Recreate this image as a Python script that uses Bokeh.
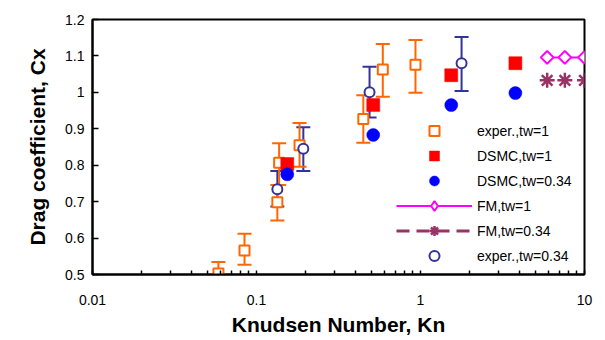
from bokeh.plotting import figure
from bokeh.models import (Range1d, FixedTicker, CustomJSTickFormatter, Whisker, TeeHead,
                          ColumnDataSource, Legend, LegendItem)
from bokeh.embed import file_html
from bokeh.resources import INLINE

# ---- data ----
exp1_kn = [0.0586, 0.0845, 0.134, 0.1374, 0.183, 0.448, 0.589, 0.932]
exp1_cx = [0.503, 0.566, 0.698, 0.807, 0.855, 0.927, 1.063, 1.076]
exp1_hi = [0.534, 0.612, 0.746, 0.860, 0.916, 0.992, 1.133, 1.144]
exp1_lo = [0.472, 0.527, 0.648, 0.746, 0.796, 0.862, 0.988, 0.999]

dsmc1_kn = [0.154, 0.515, 1.54, 3.79]
dsmc1_cx = [0.803, 0.965, 1.047, 1.080]

dsmc034_kn = [0.154, 0.515, 1.54, 3.79]
dsmc034_cx = [0.775, 0.883, 0.965, 0.998]

fm1_kn = [5.92, 7.59, 10.0]
fm1_cx = [1.096, 1.096, 1.096]

fm034_kn = [5.92, 7.59, 10.0]
fm034_cx = [1.033, 1.033, 1.033]

exp034_kn = [0.134, 0.193, 0.489, 1.78]
exp034_cx = [0.734, 0.845, 1.000, 1.080]
exp034_hi = [0.784, 0.904, 1.070, 1.152]
exp034_lo = [0.687, 0.784, 0.931, 1.004]

x_major = [0.01, 0.1, 1, 10]
x_minor = [0.02, 0.03, 0.04, 0.05, 0.06, 0.07, 0.08, 0.09,
           0.2, 0.3, 0.4, 0.5, 0.6, 0.7, 0.8, 0.9,
           2, 3, 4, 5, 6, 7, 8, 9]
y_ticks = [0.5, 0.6, 0.7, 0.8, 0.9, 1.0, 1.1, 1.2]

NAN = [float("nan")]

ORANGE = "#FF6600"
RED = "#FF0000"
BLUE = "#0000FF"
MAGENTA = "#FF00FF"
PLUM = "#993366"
NAVY = "#333399"
FONT = "Liberation Sans"

p = figure(width=600, height=338, x_axis_type="log",
           x_range=Range1d(0.01, 10), y_range=Range1d(0.5, 1.2),
           output_backend="svg", toolbar_location=None,
           min_border_left=92, min_border_right=16, min_border_top=19, min_border_bottom=63)

p.xgrid.visible = False
p.ygrid.visible = False
p.outline_line_color = "black"
p.outline_line_width = 2
p.outline_line_alpha = 1
p.background_fill_color = "white"
p.border_fill_color = "white"

fmt = CustomJSTickFormatter(code="return String(Math.round(tick*1000)/1000);")

xa = p.xaxis[0]
xa.ticker = FixedTicker(ticks=x_major, minor_ticks=x_minor)
xa.formatter = fmt
xa.axis_line_width = 2
xa.major_tick_in = 4
xa.major_tick_out = 0
xa.minor_tick_in = 4
xa.minor_tick_out = 0
xa.major_tick_line_width = 1.5
xa.minor_tick_line_width = 1.5
xa.major_label_text_font = FONT
xa.major_label_text_font_size = "14px"
xa.major_label_text_color = "black"
xa.major_label_standoff = 20
xa.axis_label = "Knudsen Number, Kn"
xa.axis_label_text_font = FONT
xa.axis_label_text_font_style = "bold"
xa.axis_label_text_font_size = "21px"
xa.axis_label_text_color = "black"
xa.axis_label_standoff = 5

ya = p.yaxis[0]
ya.ticker = FixedTicker(ticks=y_ticks, minor_ticks=[])
ya.formatter = fmt
ya.axis_line_width = 2
ya.major_tick_in = 6
ya.major_tick_out = 0
ya.minor_tick_in = 0
ya.minor_tick_out = 0
ya.major_tick_line_width = 1.5
ya.major_label_text_font = FONT
ya.major_label_text_font_size = "14px"
ya.major_label_text_color = "black"
ya.major_label_standoff = 8
ya.axis_label = "Drag coefficient, Cx"
ya.axis_label_text_font = FONT
ya.axis_label_text_font_style = "bold"
ya.axis_label_text_font_size = "21px"
ya.axis_label_text_color = "black"
ya.axis_label_standoff = 13

# ---- error bars ----
src034 = ColumnDataSource(dict(x=exp034_kn, y=exp034_cx, hi=exp034_hi, lo=exp034_lo))
src1 = ColumnDataSource(dict(x=exp1_kn, y=exp1_cx, hi=exp1_hi, lo=exp1_lo))

for src, col in ((src034, NAVY), (src1, ORANGE)):
    w = Whisker(source=src, base="x", upper="hi", lower="lo", dimension="height",
                line_color=col, line_width=2,
                upper_head=TeeHead(size=14, line_color=col, line_width=2),
                lower_head=TeeHead(size=14, line_color=col, line_width=2))
    p.add_layout(w)

# ---- markers ----
r_exp1 = p.scatter("x", "y", source=src1, marker="square", size=10,
                   fill_color="white", line_color=ORANGE, line_width=2)
r_dsmc1 = p.scatter(dsmc1_kn, dsmc1_cx, marker="square", size=13,
                    fill_color=RED, line_color=RED, line_width=0.5)
r_dsmc034 = p.scatter(dsmc034_kn, dsmc034_cx, marker="circle", size=13,
                      fill_color=BLUE, line_color=BLUE, line_width=0.5)
r_fm1_line = p.line(fm1_kn, fm1_cx, line_color=MAGENTA, line_width=2)
r_fm1 = p.scatter(fm1_kn, fm1_cx, marker="square", angle=0.785398, size=9,
                  fill_color="white", line_color=MAGENTA, line_width=2)
r_fm034 = p.scatter(fm034_kn, fm034_cx, marker="asterisk", size=15,
                    line_color=PLUM, line_width=2.5)
r_exp034 = p.scatter("x", "y", source=src034, marker="circle", size=10,
                     fill_color="white", line_color=NAVY, line_width=2)

# legend-only glyphs (NaN data: drawn in the legend only)
r_fm1_leg = p.scatter(NAN, NAN, marker="diamond", size=12,
                      fill_color="white", line_color=MAGENTA, line_width=2)
r_fm034_leg_line = p.line(NAN, NAN, line_color=PLUM, line_width=3, line_dash="13 7")

legend = Legend(items=[
    LegendItem(label="exper.,tw=1", renderers=[r_exp1]),
    LegendItem(label="DSMC,tw=1", renderers=[r_dsmc1]),
    LegendItem(label="DSMC,tw=0.34", renderers=[r_dsmc034]),
    LegendItem(label="FM,tw=1", renderers=[r_fm1_line, r_fm1_leg]),
    LegendItem(label="FM,tw=0.34", renderers=[r_fm034_leg_line, r_fm034]),
    LegendItem(label="exper.,tw=0.34", renderers=[r_exp034]),
], location=(304, 6))
legend.glyph_width = 76
legend.glyph_height = 25
legend.label_height = 25
legend.spacing = 0
legend.padding = 0
legend.margin = 0
legend.label_standoff = 5
legend.border_line_color = None
legend.background_fill_alpha = 0
legend.label_text_font = FONT
legend.label_text_font_size = "14px"
legend.label_text_color = "black"
p.add_layout(legend, "center")

open("out.html", "w").write(file_html(p, INLINE))
